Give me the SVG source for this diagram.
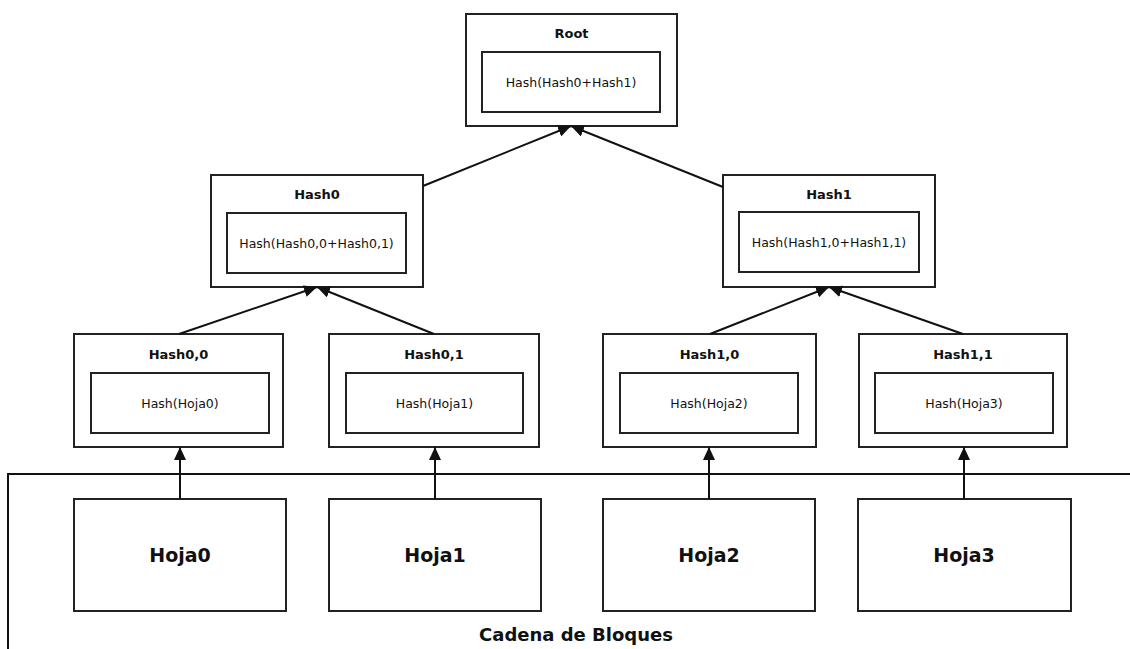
<svg xmlns="http://www.w3.org/2000/svg" width="1130" height="649" viewBox="0 0 1130 649">
<style>
.box{fill:#fff;stroke:#222;stroke-width:2}
.ttl{font-family:"DejaVu Sans",Verdana,sans-serif;font-weight:bold;font-size:13px;text-anchor:middle;fill:#111}
.txt{font-family:"DejaVu Sans",Verdana,sans-serif;font-size:12.5px;text-anchor:middle;fill:#111}
.leaf{font-family:"DejaVu Sans",Verdana,sans-serif;font-weight:bold;font-size:19px;text-anchor:middle;fill:#111}
.edge{stroke:#111;stroke-width:2;fill:none}
</style>
<defs>
<marker id="ah" markerUnits="userSpaceOnUse" viewBox="0 0 13 12" refX="13" refY="6" markerWidth="13" markerHeight="12" orient="auto">
<path d="M0,0 L13,6 L0,12 Z" fill="#111"/>
</marker>
</defs>
<rect width="1130" height="649" fill="#fff"/>
<g id="chain">
<path class="edge" d="M8,649 V474 H1130"/>
<text class="leaf" x="576" y="641" style="font-size:18px">Cadena de Bloques</text>
</g>
<g id="root">
<rect class="box" x="466" y="14" width="211" height="112"/>
<text class="ttl" x="571.5" y="38">Root</text>
<rect class="box" x="482" y="52" width="178" height="60"/>
<text class="txt" x="571" y="87">Hash(Hash0+Hash1)</text>
</g>
<g id="hash0">
<rect class="box" x="211" y="175" width="212" height="112"/>
<text class="ttl" x="317" y="199">Hash0</text>
<rect class="box" x="227" y="213" width="179" height="60"/>
<text class="txt" x="316.5" y="248">Hash(Hash0,0+Hash0,1)</text>
</g>
<g id="hash1">
<rect class="box" x="723" y="175" width="212" height="112"/>
<text class="ttl" x="829" y="199">Hash1</text>
<rect class="box" x="739" y="212" width="180" height="60"/>
<text class="txt" x="829" y="247">Hash(Hash1,0+Hash1,1)</text>
</g>
<g id="hash00">
<rect class="box" x="74" y="334" width="209" height="113"/>
<text class="ttl" x="178.5" y="359">Hash0,0</text>
<rect class="box" x="91" y="373" width="178" height="60"/>
<text class="txt" x="180" y="408">Hash(Hoja0)</text>
</g>
<g id="hash01">
<rect class="box" x="329" y="334" width="210" height="113"/>
<text class="ttl" x="434" y="359">Hash0,1</text>
<rect class="box" x="346" y="373" width="177" height="60"/>
<text class="txt" x="434.5" y="408">Hash(Hoja1)</text>
</g>
<g id="hash10">
<rect class="box" x="603" y="334" width="213" height="113"/>
<text class="ttl" x="709.5" y="359">Hash1,0</text>
<rect class="box" x="620" y="373" width="178" height="60"/>
<text class="txt" x="709" y="408">Hash(Hoja2)</text>
</g>
<g id="hash11">
<rect class="box" x="859" y="334" width="208" height="113"/>
<text class="ttl" x="963" y="359">Hash1,1</text>
<rect class="box" x="875" y="373" width="178" height="60"/>
<text class="txt" x="964" y="408">Hash(Hoja3)</text>
</g>
<g id="hoja0">
<rect class="box" x="74" y="499" width="212" height="112"/>
<text class="leaf" x="180" y="562">Hoja0</text>
</g>
<g id="hoja1">
<rect class="box" x="329" y="499" width="212" height="112"/>
<text class="leaf" x="435" y="562">Hoja1</text>
</g>
<g id="hoja2">
<rect class="box" x="603" y="499" width="212" height="112"/>
<text class="leaf" x="709" y="562">Hoja2</text>
</g>
<g id="hoja3">
<rect class="box" x="858" y="499" width="213" height="112"/>
<text class="leaf" x="964" y="562">Hoja3</text>
</g>
<g id="connectors">
<line class="edge" x1="180" y1="499" x2="180" y2="447" marker-end="url(#ah)"/>
<line class="edge" x1="435" y1="499" x2="435" y2="447" marker-end="url(#ah)"/>
<line class="edge" x1="709" y1="499" x2="709" y2="447" marker-end="url(#ah)"/>
<line class="edge" x1="964" y1="499" x2="964" y2="447" marker-end="url(#ah)"/>
<line class="edge" x1="179" y1="334" x2="317" y2="287" marker-end="url(#ah)"/>
<line class="edge" x1="434" y1="334" x2="317" y2="287" marker-end="url(#ah)"/>
<line class="edge" x1="710" y1="334" x2="829" y2="287" marker-end="url(#ah)"/>
<line class="edge" x1="963" y1="334" x2="829" y2="287" marker-end="url(#ah)"/>
<line class="edge" x1="423" y1="186" x2="571" y2="126" marker-end="url(#ah)"/>
<line class="edge" x1="723" y1="187" x2="571" y2="126" marker-end="url(#ah)"/>
</g>
</svg>
